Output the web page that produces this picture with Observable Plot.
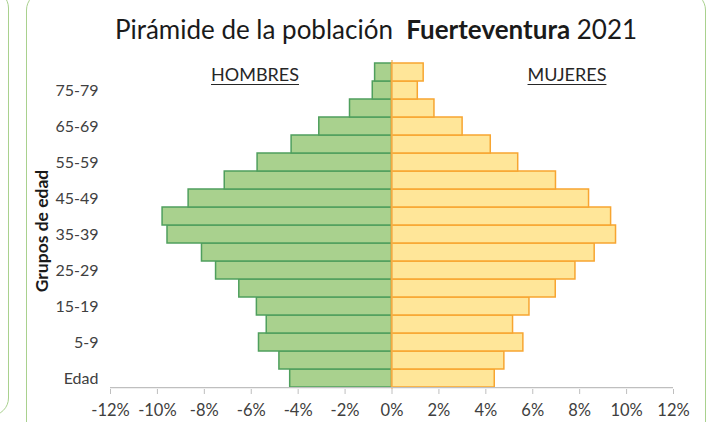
<!DOCTYPE html>
<html>
<head>
<meta charset="utf-8">
<script src="https://cdn.jsdelivr.net/npm/d3@7"></script>
<script src="https://cdn.jsdelivr.net/npm/@observablehq/plot@0.6"></script>
<style>
  html, body { margin: 0; padding: 0; background: #fff; }
  #wrap { position: relative; width: 720px; height: 422px; overflow: hidden; font-family: Lato, "Open Sans", sans-serif; }
  .panel { position: absolute; border: 1.5px solid #a9d18e; border-radius: 18px; box-sizing: border-box; }
  #title { position: absolute; left: 0; width: 752px; top: 13px; text-align: center; font-size: 26px; color: #1a1a1a; white-space: pre; }
  .sexlab { position: absolute; top: 63px; font-size: 18px; color: #262626; text-decoration: underline; text-underline-offset: 3px; transform: translateX(-50%); }
  #chart { position: absolute; left: 0; top: 0; }
</style>
</head>
<body>
<div id="wrap">
  <div class="panel" style="left:-200px; top:-10px; width:209px; height:426px;"></div>
  <div class="panel" style="left:26px; top:-8px; width:680px; height:460px;"></div>
  <div id="chart"></div>
  <div id="title">Pirámide de la población  <b>Fuerteventura</b> 2021</div>
  <div class="sexlab" style="left:255px;">HOMBRES</div>
  <div class="sexlab" style="left:567px;">MUJERES</div>
</div>
<script>
// Age groups, bottom to top
const ages = ["Edad","0-4","5-9","10-14","15-19","20-24","25-29","30-34","35-39","40-44","45-49","50-54","55-59","60-64","65-69","70-74","75-79","80 y más"];
// Percent of population
const hombres = [-4.34,-4.8,-5.67,-5.34,-5.76,-6.51,-7.5,-8.1,-9.57,-9.78,-8.67,-7.13,-5.73,-4.28,-3.1,-1.79,-0.82,-0.72];
const mujeres = [4.38,4.79,5.6,5.16,5.86,6.98,7.82,8.64,9.55,9.34,8.4,6.99,5.38,4.21,3.01,1.81,1.1,1.35];
const xTicks = [-12,-10,-8,-6,-4,-2,0,2,4,6,8,10,12];

const menData = ages.map((a, i) => ({age: a, value: hombres[i]}));
const womenData = ages.map((a, i) => ({age: a, value: mujeres[i]}));

const chart = Plot.plot({
  width: 720,
  height: 422,
  marginLeft: 110,
  marginRight: 47,
  marginTop: 60,
  marginBottom: 33,
  style: {background: "transparent", fontFamily: "Lato, 'Open Sans', sans-serif"},
  x: {domain: [-12, 12]},
  y: {domain: ages.slice().reverse(), padding: 0},
  marks: [
    Plot.barX(menData, {x: "value", y: "age", fill: "#a9d18e", stroke: "#4f9f5d", strokeWidth: 1.5}),
    Plot.barX(womenData, {x: "value", y: "age", fill: "#ffe699", stroke: "#f7a531", strokeWidth: 1.5}),
    Plot.ruleX([0], {stroke: "#f0b050", strokeWidth: 1.2}),
    Plot.ruleY([ages[0]], {y: d => d, x1: -12, x2: 12, dy: 9.15, stroke: "#bfbfbf", strokeWidth: 1.2}),
    Plot.axisX({ticks: xTicks, tickFormat: d => `${d}%`, tickSize: 5, tickPadding: 10, stroke: "#bfbfbf", color: "#404040", fontSize: 16.5, label: null}),
    Plot.axisY({tickSize: 0, tickPadding: 12, fontSize: 16, color: "#404040", label: null,
      tickFormat: d => (ages.indexOf(d) % 2 === 0 ? d : "")}),
    Plot.text(["Grupos de edad"], {frameAnchor: "left", textAnchor: "middle", rotate: -90, dx: -68, dy: 6, fontSize: 17.5, fontWeight: "bold", fill: "#1a1a1a"})
  ]
});
document.getElementById("chart").appendChild(chart);
</script>
</body>
</html>
